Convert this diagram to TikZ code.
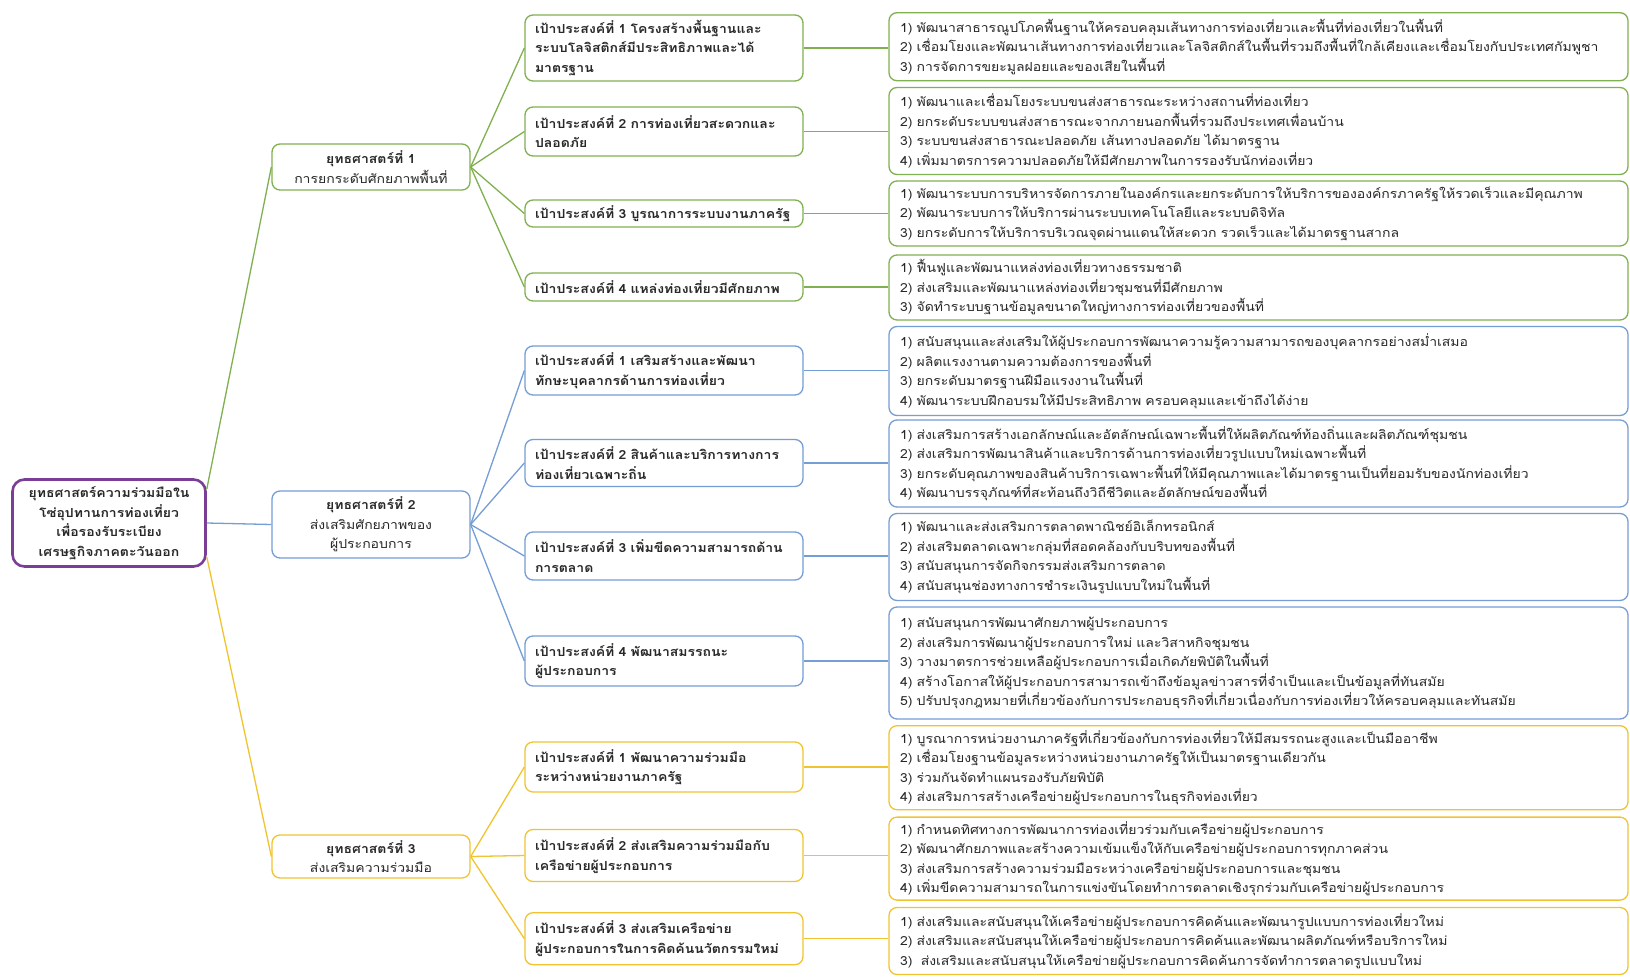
\documentclass[tikz,border=0pt]{standalone}
\usepackage{fontspec}
\newfontfamily\thaifont[Script=Thai,FakeStretch=1.12]{Loma}
\definecolor{grn}{RGB}{128,176,80}
\definecolor{blu}{RGB}{116,158,212}
\definecolor{ylw}{RGB}{240,196,48}
\definecolor{purp}{RGB}{122,62,150}
\definecolor{txt}{RGB}{40,40,40}
\tikzset{
  basebox/.style={draw, rounded corners=8pt, fill=white, line width=1.3pt, text=txt,
    font=\thaifont\fontsize{12.5}{19.5}\selectfont},
  rootbox/.style={basebox, draw=purp, line width=2.6pt, rounded corners=12pt, align=center,
    minimum width=193pt, minimum height=87pt, font=\thaifont\bfseries\fontsize{12.5}{19.5}\selectfont},
  stratbox/.style={basebox, align=center, minimum width=198pt},
  objbox/.style={basebox, text width=258pt, align=left, inner xsep=10pt,
    font=\thaifont\bfseries\fontsize{12.5}{19.5}\selectfont},
  detbox/.style={basebox, text width=717pt, align=left, inner xsep=11pt},
  conn/.style={line width=1.3pt},
}
\begin{document}
\begin{tikzpicture}[x=1pt,y=-1pt]
\useasboundingbox (0,0) rectangle (1630,977);
\fill[white] (0,0) rectangle (1630,977);

% root
\node[rootbox] (root) at (109,523) {ยุทธศาสตร์ความร่วมมือใน\\โซ่อุปทานการท่องเที่ยว\\เพื่อรองรับระเบียง\\เศรษฐกิจภาคตะวันออก};

% strategies
\node[stratbox, draw=grn, minimum height=46pt] (s1) at (371,167) {\textbf{ยุทธศาสตร์ที่ 1}\\การยกระดับศักยภาพพื้นที่};
\node[stratbox, draw=blu, minimum height=67pt] (s2) at (371,524.5) {\textbf{ยุทธศาสตร์ที่ 2}\\ส่งเสริมศักยภาพของ\\ผู้ประกอบการ};
\node[stratbox, draw=ylw, minimum height=43pt] (s3) at (371,856.5) {\textbf{ยุทธศาสตร์ที่ 3}\\ส่งเสริมความร่วมมือ};

% objectives strategy 1
\node[objbox, draw=grn, minimum height=66pt] (o11) at (664,48) {เป้าประสงค์ที่ 1 โครงสร้างพื้นฐานและ\\ระบบโลจิสติกส์มีประสิทธิภาพและได้\\มาตรฐาน};
\node[objbox, draw=grn, minimum height=49pt] (o12) at (664,131.5) {เป้าประสงค์ที่ 2 การท่องเที่ยวสะดวกและ\\ปลอดภัย};
\node[objbox, draw=grn, minimum height=27pt] (o13) at (664,213.5) {เป้าประสงค์ที่ 3 บูรณาการระบบงานภาครัฐ};
\node[objbox, draw=grn, minimum height=28pt] (o14) at (664,287) {เป้าประสงค์ที่ 4 แหล่งท่องเที่ยวมีศักยภาพ};

% objectives strategy 2
\node[objbox, draw=blu, minimum height=49pt] (o21) at (664,370.5) {เป้าประสงค์ที่ 1 เสริมสร้างและพัฒนา\\ทักษะบุคลากรด้านการท่องเที่ยว};
\node[objbox, draw=blu, minimum height=47pt] (o22) at (664,463) {เป้าประสงค์ที่ 2 สินค้าและบริการทางการ\\ท่องเที่ยวเฉพาะถิ่น};
\node[objbox, draw=blu, minimum height=48pt] (o23) at (664,556) {เป้าประสงค์ที่ 3 เพิ่มขีดความสามารถด้าน\\การตลาด};
\node[objbox, draw=blu, minimum height=50pt] (o24) at (664,661) {เป้าประสงค์ที่ 4 พัฒนาสมรรถนะ\\ผู้ประกอบการ};

% objectives strategy 3
\node[objbox, draw=ylw, minimum height=50pt] (o31) at (664,767) {เป้าประสงค์ที่ 1 พัฒนาความร่วมมือ\\ระหว่างหน่วยงานภาครัฐ};
\node[objbox, draw=ylw, minimum height=52pt] (o32) at (664,855.5) {เป้าประสงค์ที่ 2 ส่งเสริมความร่วมมือกับ\\เครือข่ายผู้ประกอบการ};
\node[objbox, draw=ylw, minimum height=52pt] (o33) at (664,938.7) {เป้าประสงค์ที่ 3 ส่งเสริมเครือข่าย\\ผู้ประกอบการในการคิดค้นนวัตกรรมใหม่};

% details strategy 1
\node[detbox, draw=grn, minimum height=68pt] (d11) at (1258.5,46.7) {1) พัฒนาสาธารณูปโภคพื้นฐานให้ครอบคลุมเส้นทางการท่องเที่ยวและพื้นที่ท่องเที่ยวในพื้นที่\\2) เชื่อมโยงและพัฒนาเส้นทางการท่องเที่ยวและโลจิสติกส์ในพื้นที่รวมถึงพื้นที่ใกล้เคียงและเชื่อมโยงกับประเทศกัมพูชา\\3) การจัดการขยะมูลฝอยและของเสียในพื้นที่};
\node[detbox, draw=grn, minimum height=87pt] (d12) at (1258.5,131) {1) พัฒนาและเชื่อมโยงระบบขนส่งสาธารณะระหว่างสถานที่ท่องเที่ยว\\2) ยกระดับระบบขนส่งสาธารณะจากภายนอกพื้นที่รวมถึงประเทศเพื่อนบ้าน\\3) ระบบขนส่งสาธารณะปลอดภัย เส้นทางปลอดภัย ได้มาตรฐาน\\4) เพิ่มมาตรการความปลอดภัยให้มีศักยภาพในการรองรับนักท่องเที่ยว};
\node[detbox, draw=grn, minimum height=65pt] (d13) at (1258.5,213.5) {1) พัฒนาระบบการบริหารจัดการภายในองค์กรและยกระดับการให้บริการขององค์กรภาครัฐให้รวดเร็วและมีคุณภาพ\\2) พัฒนาระบบการให้บริการผ่านระบบเทคโนโลยีและระบบดิจิทัล\\3) ยกระดับการให้บริการบริเวณจุดผ่านแดนให้สะดวก รวดเร็วและได้มาตรฐานสากล};
\node[detbox, draw=grn, minimum height=65pt] (d14) at (1258.5,287.5) {1) ฟื้นฟูและพัฒนาแหล่งท่องเที่ยวทางธรรมชาติ\\2) ส่งเสริมและพัฒนาแหล่งท่องเที่ยวชุมชนที่มีศักยภาพ\\3) จัดทำระบบฐานข้อมูลขนาดใหญ่ทางการท่องเที่ยวของพื้นที่};

% details strategy 2
\node[detbox, draw=blu, minimum height=89pt] (d21) at (1258.5,371) {1) สนับสนุนและส่งเสริมให้ผู้ประกอบการพัฒนาความรู้ความสามารถของบุคลากรอย่างสม่ำเสมอ\\2) ผลิตแรงงานตามความต้องการของพื้นที่\\3) ยกระดับมาตรฐานฝีมือแรงงานในพื้นที่\\4) พัฒนาระบบฝึกอบรมให้มีประสิทธิภาพ ครอบคลุมและเข้าถึงได้ง่าย};
\node[detbox, draw=blu, minimum height=87pt] (d22) at (1258.5,463.5) {1) ส่งเสริมการสร้างเอกลักษณ์และอัตลักษณ์เฉพาะพื้นที่ให้ผลิตภัณฑ์ท้องถิ่นและผลิตภัณฑ์ชุมชน\\2) ส่งเสริมการพัฒนาสินค้าและบริการด้านการท่องเที่ยวรูปแบบใหม่เฉพาะพื้นที่\\3) ยกระดับคุณภาพของสินค้าบริการเฉพาะพื้นที่ให้มีคุณภาพและได้มาตรฐานเป็นที่ยอมรับของนักท่องเที่ยว\\4) พัฒนาบรรจุภัณฑ์ที่สะท้อนถึงวิถีชีวิตและอัตลักษณ์ของพื้นที่};
\node[detbox, draw=blu, minimum height=87pt] (d23) at (1258.5,557) {1) พัฒนาและส่งเสริมการตลาดพาณิชย์อิเล็กทรอนิกส์\\2) ส่งเสริมตลาดเฉพาะกลุ่มที่สอดคล้องกับบริบทของพื้นที่\\3) สนับสนุนการจัดกิจกรรมส่งเสริมการตลาด\\4) สนับสนุนช่องทางการชำระเงินรูปแบบใหม่ในพื้นที่};
\node[detbox, draw=blu, minimum height=112pt] (d24) at (1258.5,663) {1) สนับสนุนการพัฒนาศักยภาพผู้ประกอบการ\\2) ส่งเสริมการพัฒนาผู้ประกอบการใหม่ และวิสาหกิจชุมชน\\3) วางมาตรการช่วยเหลือผู้ประกอบการเมื่อเกิดภัยพิบัติในพื้นที่\\4) สร้างโอกาสให้ผู้ประกอบการสามารถเข้าถึงข้อมูลข่าวสารที่จำเป็นและเป็นข้อมูลที่ทันสมัย\\5) ปรับปรุงกฎหมายที่เกี่ยวข้องกับการประกอบธุรกิจที่เกี่ยวเนื่องกับการท่องเที่ยวให้ครอบคลุมและทันสมัย};

% details strategy 3
\node[detbox, draw=ylw, minimum height=84pt] (d31) at (1258.5,767.7) {1) บูรณาการหน่วยงานภาครัฐที่เกี่ยวข้องกับการท่องเที่ยวให้มีสมรรถนะสูงและเป็นมืออาชีพ\\2) เชื่อมโยงฐานข้อมูลระหว่างหน่วยงานภาครัฐให้เป็นมาตรฐานเดียวกัน\\3) ร่วมกันจัดทำแผนรองรับภัยพิบัติ\\4) ส่งเสริมการสร้างเครือข่ายผู้ประกอบการในธุรกิจท่องเที่ยว};
\node[detbox, draw=ylw, minimum height=83pt] (d32) at (1258.5,858.6) {1) กำหนดทิศทางการพัฒนาการท่องเที่ยวร่วมกับเครือข่ายผู้ประกอบการ\\2) พัฒนาศักยภาพและสร้างความเข้มแข็งให้กับเครือข่ายผู้ประกอบการทุกภาคส่วน\\3) ส่งเสริมการสร้างความร่วมมือระหว่างเครือข่ายผู้ประกอบการและชุมชน\\4) เพิ่มขีดความสามารถในการแข่งขันโดยทำการตลาดเชิงรุกร่วมกับเครือข่ายผู้ประกอบการ};
\node[detbox, draw=ylw, minimum height=67pt] (d33) at (1258.5,941) {1) ส่งเสริมและสนับสนุนให้เครือข่ายผู้ประกอบการคิดค้นและพัฒนารูปแบบการท่องเที่ยวใหม่\\2) ส่งเสริมและสนับสนุนให้เครือข่ายผู้ประกอบการคิดค้นและพัฒนาผลิตภัณฑ์หรือบริการใหม่\\3)\ \ ส่งเสริมและสนับสนุนให้เครือข่ายผู้ประกอบการคิดค้นการจัดทำการตลาดรูปแบบใหม่};

% root connectors
\draw[conn, grn] ([yshift=34pt]root.east) -- (s1.west);
\draw[conn, blu] (root.east) -- (s2.west);
\draw[conn, ylw] ([yshift=-34pt]root.east) -- (s3.west);

% strategy -> objective
\foreach \o in {o11,o12,o13,o14} \draw[conn, grn] (s1.east) -- (\o.west);
\foreach \o in {o21,o22,o23,o24} \draw[conn, blu] (s2.east) -- (\o.west);
\foreach \o in {o31,o32,o33} \draw[conn, ylw] (s3.east) -- (\o.west);

% objective -> details
\foreach \o/\d in {o11/d11,o12/d12,o13/d13,o14/d14} \draw[conn, grn] (\o.east) -- (\o.east -| \d.west);
\foreach \o/\d in {o21/d21,o22/d22,o23/d23,o24/d24} \draw[conn, blu] (\o.east) -- (\o.east -| \d.west);
\foreach \o/\d in {o31/d31,o32/d32,o33/d33} \draw[conn, ylw] (\o.east) -- (\o.east -| \d.west);
\end{tikzpicture}
\end{document}
